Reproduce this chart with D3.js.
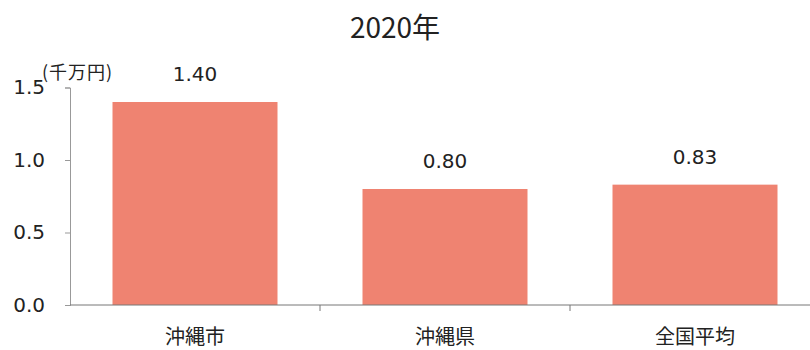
<!DOCTYPE html>
<html><head><meta charset="utf-8">
<script src="https://cdn.jsdelivr.net/npm/d3@7"></script>
<style>body{margin:0;background:#fff}</style>
</head><body>
<svg id="c" width="810" height="350"></svg>
<script>
const categories = ["沖縄市", "沖縄県", "全国平均"];
const values = [1.40, 0.80, 0.83];
const valueLabels = ["1.40", "0.80", "0.83"];
const yTicks = [0, 0.5, 1.0, 1.5];
const title = "2020年";
const unit = "(千万円)";

const svg = d3.select("#c");
const x = d3.scaleBand().domain(categories).range([70, 820]).paddingInner(0.34).paddingOuter(0.17);
const y = d3.scaleLinear().domain([0, 1.5]).range([305, 87.5]);
const cjk = "'Noto Sans CJK JP', sans-serif";
const num = "'DejaVu Sans', Verdana, sans-serif";

svg.append("text").attr("x", 395).attr("y", 38).attr("text-anchor", "middle")
  .attr("font-family", cjk).attr("font-size", 28).attr("fill", "#222").text(title);

svg.selectAll("rect.bar").data(values).join("rect").attr("class", "bar")
  .attr("x", (d, i) => x(categories[i])).attr("width", x.bandwidth())
  .attr("y", d => y(d)).attr("height", d => y(0) - y(d)).attr("fill", "#ef8371");

svg.selectAll("text.val").data(values).join("text").attr("class", "val")
  .attr("x", (d, i) => x(categories[i]) + x.bandwidth() / 2).attr("y", d => y(d) - 21)
  .attr("text-anchor", "middle").attr("font-family", num).attr("font-size", 20).attr("fill", "#222")
  .text((d, i) => valueLabels[i]);

// y axis
const ya = svg.append("g").attr("transform", "translate(70,0)")
  .call(d3.axisLeft(y).tickValues(yTicks).tickFormat(d3.format(".1f")).tickSize(5).tickPadding(20));
ya.select(".domain").attr("stroke", "#999");
ya.selectAll(".tick line").attr("stroke", "#999");
ya.selectAll(".tick text").attr("font-family", num).attr("font-size", 20).attr("fill", "#222");

// x axis
const xa = svg.append("g").attr("transform", "translate(0,305)")
  .call(d3.axisBottom(x).tickSize(0).tickPadding(25));
xa.select(".domain").remove();
xa.selectAll(".tick text").attr("font-family", cjk).attr("font-size", 20).attr("fill", "#222");
svg.append("line").attr("x1", 70).attr("x2", 810).attr("y1", 305).attr("y2", 305).attr("stroke", "#777");
svg.selectAll("line.sep").data(categories.slice(1)).join("line").attr("class", "sep")
  .attr("x1", d => x(d) - x.step() * x.paddingInner() / 2).attr("x2", d => x(d) - x.step() * x.paddingInner() / 2)
  .attr("y1", 305).attr("y2", 311).attr("stroke", "#777");

svg.append("text").attr("x", 42).attr("y", 79).attr("font-family", cjk).attr("font-size", 18)
  .attr("letter-spacing", 1).attr("fill", "#222").text(unit);
</script>
</body></html>
